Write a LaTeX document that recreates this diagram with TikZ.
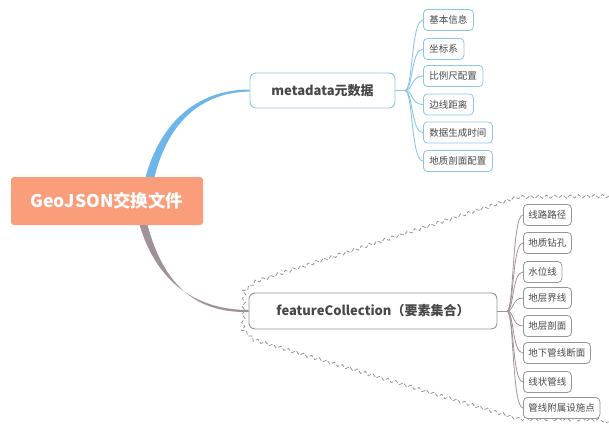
\documentclass[tikz,border=0pt]{standalone}
\usepackage{fontspec}
\setmainfont{Noto Sans CJK SC}
\usetikzlibrary{decorations.pathmorphing,calc}
\definecolor{rootfill}{RGB}{250,157,122}
\definecolor{mdline}{RGB}{110,182,234}
\definecolor{mdbox}{RGB}{140,196,236}
\definecolor{fcline}{RGB}{160,146,154}
\definecolor{fcbox}{RGB}{150,150,150}
\definecolor{txt}{RGB}{72,72,72}
\definecolor{bound}{RGB}{150,150,150}
\begin{document}
\begin{tikzpicture}[x=1pt,y=-1pt,
  rootbox/.style={fill=rootfill,rounded corners=3pt,text=white,font=\fontsize{17.5}{20}\selectfont\bfseries,minimum width=192pt,minimum height=48pt,inner sep=0pt},
  mainbox/.style={draw=#1,line width=0.9pt,rounded corners=6pt,fill=white,text=txt,font=\fontsize{13}{16}\selectfont\bfseries,inner sep=0pt},
  leafbox/.style={draw=#1,line width=0.8pt,rounded corners=4pt,fill=white,text=txt,font=\fontsize{9.5}{11}\selectfont,minimum height=21pt,inner xsep=6pt,inner ysep=0pt,anchor=west},
  mdlink/.style={draw=mdbox,line width=0.9pt},
  fclink/.style={draw=fcline,line width=0.8pt}]
\useasboundingbox (0,0) rectangle (609,425);
% boundary
\draw[bound,line width=0.8pt,dash pattern=on 4pt off 2pt,decorate,decoration={snake,amplitude=1.6pt,segment length=8pt}]
  (609,196) -- (520,197) -- (256,282) -- (244,292) -- (243,330) -- (256,342) -- (520,421) -- (609,422);
% main nodes
\node[mainbox=mdbox,minimum width=145pt,minimum height=35pt] (md) at (322.5,90.5) {metadata元数据};
\node[mainbox=fcbox,minimum width=248pt,minimum height=36pt] (fc) at (373,311) {featureCollection（要素集合）};
% main connectors (tapered)
\fill[mdline] (145,179) .. controls (161,119) and (200,89.6) .. ($(md.west)+(0,-1)$) -- ($(md.west)+(0,1)$) .. controls (202,92.5) and (168,121) .. (154,179) -- cycle;
\fill[fcline] (139,223) .. controls (157,286) and (200,310) .. ($(fc.west)+(0,-1)$) -- ($(fc.west)+(0,1)$) .. controls (198,313) and (164,288) .. (147,223) -- cycle;
\node[rootbox] (root) at (107,201) {GeoJSON交换文件};
% metadata children
\coordinate (mdbr) at (405,90.5);
\draw[mdlink] (md.east) -- (mdbr);
\foreach \n/\y/\t in {m1/20/基本信息,m2/49/坐标系,m3/76/比例尺配置,m4/104.5/边线距离,m5/132.5/数据生成时间,m6/161/地质剖面配置}{
  \node[leafbox=mdbox] (\n) at (423,\y) {\t};
  \draw[mdlink] (mdbr) .. controls (413,90.5) and (411,\y) .. (\n.west);
}
% featureCollection children
\coordinate (fcbr) at (507,311);
\draw[fclink] (fc.east) -- (fcbr);
\foreach \n/\y/\t in {f1/215/线路路径,f2/243/地质钻孔,f3/272/水位线,f4/298/地层界线,f5/326/地层剖面,f6/353/地下管线断面,f7/382/线状管线,f8/408/管线附属设施点}{
  \node[leafbox=fcbox,inner xsep=5pt] (\n) at (523,\y) {\t};
  \draw[fclink] (fcbr) .. controls (514,311) and (512,\y) .. (\n.west);
}
\end{tikzpicture}
\end{document}
